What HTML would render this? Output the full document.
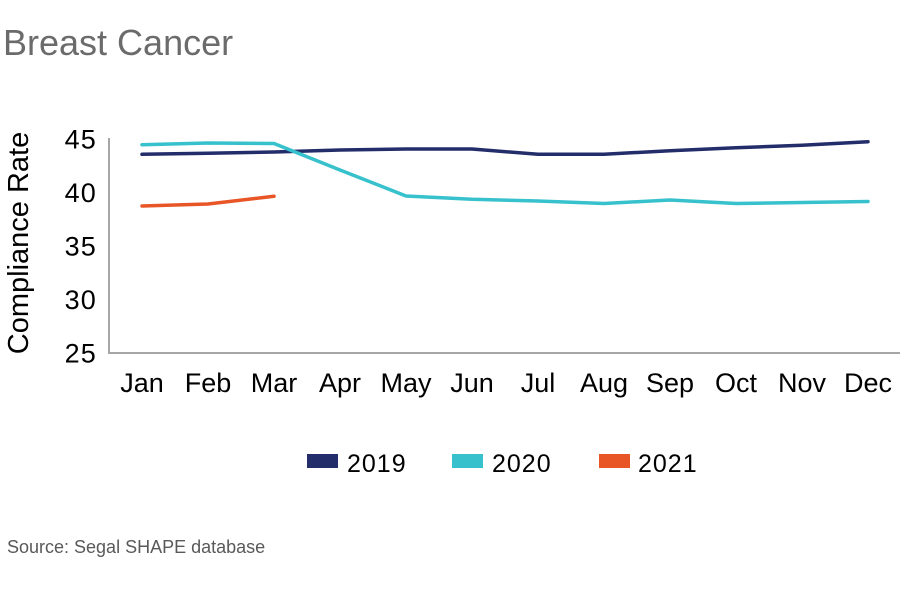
<!DOCTYPE html>
<html>
<head>
<meta charset="utf-8">
<style>
html,body{margin:0;padding:0;background:#fff;}
svg{display:block;}
text{font-family:"Liberation Sans",Arial,sans-serif;}
</style>
</head>
<body>
<svg width="900" height="600" viewBox="0 0 900 600" xmlns="http://www.w3.org/2000/svg">
<rect width="900" height="600" fill="#fff"/>
<text x="3" y="55" font-size="36" fill="#6b6b6b">Breast Cancer</text>

<!-- axes -->
<line x1="109" y1="138" x2="109" y2="353" stroke="#a6a6a6" stroke-width="2"/>
<line x1="108" y1="353" x2="900" y2="353" stroke="#a6a6a6" stroke-width="2"/>

<!-- y tick labels -->
<g font-size="27" fill="#000" text-anchor="end" letter-spacing="1.2">
<text x="97" y="148.5">45</text>
<text x="97" y="202">40</text>
<text x="97" y="255.5">35</text>
<text x="97" y="309">30</text>
<text x="97" y="362.5">25</text>
</g>

<text transform="translate(28,243) rotate(-90)" font-size="29" fill="#000" text-anchor="middle">Compliance Rate</text>

<!-- x labels -->
<g font-size="27" fill="#000" text-anchor="middle">
<text x="142" y="392">Jan</text>
<text x="208" y="392">Feb</text>
<text x="274" y="392">Mar</text>
<text x="340" y="392">Apr</text>
<text x="406" y="392">May</text>
<text x="472" y="392">Jun</text>
<text x="538" y="392">Jul</text>
<text x="604" y="392">Aug</text>
<text x="670" y="392">Sep</text>
<text x="736" y="392">Oct</text>
<text x="802" y="392">Nov</text>
<text x="868" y="392">Dec</text>
</g>

<!-- series -->
<g fill="none" stroke-width="3.5" stroke-linejoin="round" stroke-linecap="round">
<polyline stroke="#232d69" points="142,154.3 208,153.2 274,152 340,150 406,149 472,149 538,154.3 604,154.3 670,150.7 736,147.7 802,145.3 868,141.7"/>
<polyline stroke="#37c1cc" points="142,144.7 208,143 274,143.5 340,170 406,196 472,199.3 538,201 604,203.5 670,200 736,203.5 802,202.5 868,201.5"/>
<polyline stroke="#e85628" points="142,206 208,204 274,196.3"/>
</g>

<!-- legend -->
<rect x="307" y="454" width="31" height="14" fill="#232d69"/>
<rect x="452" y="454" width="31" height="14" fill="#37c1cc"/>
<rect x="599" y="454" width="31" height="14" fill="#e85628"/>
<g font-size="25" fill="#000" letter-spacing="1">
<text x="347" y="472">2019</text>
<text x="492" y="472">2020</text>
<text x="638" y="472">2021</text>
</g>

<text x="7" y="553" font-size="18" fill="#595959">Source: Segal SHAPE database</text>
</svg>
</body>
</html>
